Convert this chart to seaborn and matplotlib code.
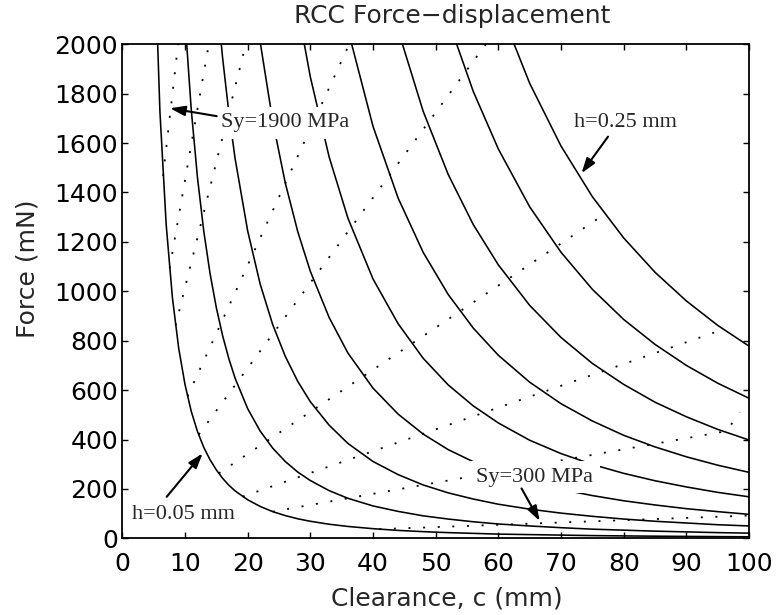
import numpy as np
import pandas as pd
import matplotlib
matplotlib.use("Agg")
import matplotlib.pyplot as plt
import seaborn as sns

# ---------------- data ----------------
clearance = [5, 6, 7, 8, 9, 10, 11, 12, 13, 14, 15, 16, 17, 18, 20, 22, 24, 26, 28,
             30, 33, 36, 40, 44, 48, 52, 56, 60, 65, 70, 75, 80, 85, 90, 95, 100]

h_values = [0.05, 0.075, 0.1, 0.125, 0.15, 0.175, 0.2, 0.225, 0.25]

# force (mN) for each thickness; each list matches the LAST len(list) clearance values
force_h050 = [2490, 1729, 1270, 973, 769, 623, 514, 432, 368, 318, 277, 243, 215, 192,
              156, 129, 108, 92, 79, 69, 57, 48, 39, 32, 27, 23, 20, 17, 15, 13, 11,
              9.7, 8.6, 7.7, 6.9, 6.2]
force_h075 = [2101, 1736, 1459, 1243, 1072, 934, 821, 727, 648, 525, 434, 365, 311, 268,
              234, 193, 162, 131, 109, 91, 78, 67, 58, 50, 43, 37, 33, 29, 26, 23, 21]
force_h100 = [2214, 1946, 1723, 1537, 1245, 1029, 865, 737, 635, 553, 458, 384, 311, 258,
              216, 184, 159, 138, 118, 102, 89, 78, 69, 62, 55, 50]
force_h125 = [2431, 2009, 1689, 1439, 1241, 1081, 894, 750, 608, 503, 422, 359, 310, 270,
              230, 198, 173, 152, 135, 120, 108, 97]
force_h150 = [2144, 1868, 1544, 1296, 1050, 869, 729, 621, 536, 467, 397, 343, 299, 263,
              233, 208, 186, 168]
force_h175 = [2059, 1668, 1378, 1158, 987, 851, 741, 632, 545, 475, 417, 370, 330, 296, 267]
force_h200 = [2058, 1729, 1473, 1270, 1107, 943, 813, 708, 623, 551, 492, 441, 398]
force_h225 = [2098, 1809, 1576, 1342, 1158, 1008, 886, 785, 700, 628, 567]
force_h250 = [2161, 1842, 1588, 1383, 1216, 1077, 961, 862, 778]

# yield-strength loci (dotted), vertices
sy_values = [300, 500, 700, 900, 1100, 1300, 1500, 1700, 1900]
sy_clearance = [[41.0, 100.0], [24.0, 95.5, 97.0, 98.5], [19.2, 95.9], [15.4, 77.0],
                [12.2, 58.0], [10.4, 36.2], [8.5, 19.7], [7.55, 13.8], [6.5, 8.9]]
sy_force = [[37, 92], [108, 430, 455, 510], [169, 846], [263, 1313],
            [420, 2000], [575, 2000], [862, 2000], [1093, 2000], [1467, 2000]]

x_ticks = [0, 10, 20, 30, 40, 50, 60, 70, 80, 90, 100]
y_ticks = [0, 200, 400, 600, 800, 1000, 1200, 1400, 1600, 1800, 2000]

# ---------------- build long table ----------------
curves = [force_h050, force_h075, force_h100, force_h125, force_h150,
          force_h175, force_h200, force_h225, force_h250]
rows = []
for h, f in zip(h_values, curves):
    for c, v in zip(clearance[-len(f):], f):
        rows.append((h, c, v))
df = pd.DataFrame(rows, columns=["h", "c", "F"])

# ---------------- plot ----------------
sns.set_theme(style="ticks")
plt.rcParams["font.family"] = ["DejaVu Sans"]

fig = plt.figure(figsize=(7.8, 6.15), dpi=100)
ax = fig.add_axes([0.1568, 0.1247, 0.9603 - 0.1568, 0.928 - 0.1247])

sns.lineplot(data=df, x="c", y="F", units="h", estimator=None, sort=False,
             color="black", lw=1.15, ax=ax, legend=False)

for cs, fs in zip(sy_clearance, sy_force):
    sns.lineplot(x=cs, y=fs, estimator=None, sort=False, color="black", lw=1.3,
                 linestyle=(0, (1.1, 7.0)), ax=ax, legend=False)

ax.set_xlim(0, 100)
ax.set_ylim(0, 2000)
ax.set_xticks(x_ticks)
ax.set_yticks(y_ticks)
ax.tick_params(direction="in", length=4.5, width=1, top=True, right=True,
               labelsize=18, colors="black")
ax.tick_params(axis="y", pad=3)
ax.tick_params(axis="x", pad=10)
for sp in ax.spines.values():
    sp.set_linewidth(1.3)
    sp.set_color("black")

ax.set_title("RCC Force\u2212displacement", fontsize=18, pad=15, x=0.5256)
ax.set_xlabel("Clearance, c (mm)", fontsize=18)
ax.set_ylabel("Force (mN)", fontsize=18)
ax.xaxis.set_label_coords(0.518, -0.097)
ax.yaxis.set_label_coords(-0.132, 0.545)

txt_kw = dict(fontsize=16, family="Liberation Serif", ha="center", va="baseline",
              zorder=5, bbox=dict(boxstyle="square,pad=0.3", fc="white", ec="none"))
ax.text(25.95, 1664, "Sy=1900 MPa", **txt_kw)
ax.text(80.25, 1664, "h=0.25 mm", **txt_kw)
ax.text(65.8, 229, "Sy=300 MPa", **txt_kw)
ax.text(9.68, 78, "h=0.05 mm", **txt_kw)

arr = dict(arrowstyle="-|>,head_length=0.6,head_width=0.2", mutation_scale=15,
           color="black", lw=1.5, shrinkA=0, shrinkB=0)
for tail, tip in [((15.06, 1709), (7.61, 1741)),
                  ((77.5, 1626), (73.27, 1478)),
                  ((7.08, 168), (12.82, 344)),
                  ((63.7, 202), (66.6, 70))]:
    ax.annotate("", xy=tip, xytext=tail, arrowprops=arr, zorder=6)

fig.savefig("out.png", dpi=100)
